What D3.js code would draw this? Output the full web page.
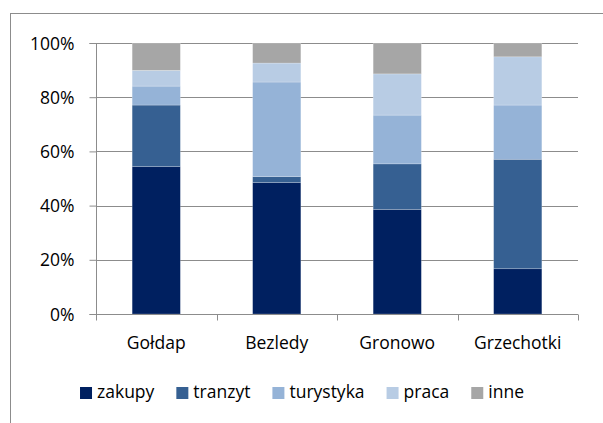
<!DOCTYPE html>
<html>
<head>
<meta charset="utf-8">
<script src="https://cdn.jsdelivr.net/npm/d3@7/dist/d3.min.js"></script>
<style>
  html, body { margin: 0; padding: 0; background: #fff; }
  svg { display: block; }
  text { font-family: "Open Sans", sans-serif; fill: #000; }
</style>
</head>
<body>
<svg id="chart" width="603" height="423"></svg>
<script>
// Stacked 100% bars: purpose of trips through each border crossing
const categories = ["Gołdap", "Bezledy", "Gronowo", "Grzechotki"];
const seriesNames = ["zakupy", "tranzyt", "turystyka", "praca", "inne"];
const zakupy    = [54.4, 48.5, 38.6, 16.7];
const tranzyt   = [22.7,  2.2, 16.8, 40.4];
const turystyka = [ 7.0, 34.9, 18.0, 20.0];
const praca     = [ 5.8,  7.0, 15.2, 17.8];
const inne      = [10.1,  7.4, 11.4,  5.1];
const yTicks = [0, 0.2, 0.4, 0.6, 0.8, 1.0];
const colors = ["#002060", "#366092", "#95b3d7", "#b8cce4", "#a6a6a6"];

const FONT_SIZE = "17.5px";

const seriesValues = [zakupy, tranzyt, turystyka, praca, inne];
const rows = categories.map((c, i) => {
  const row = { category: c };
  seriesNames.forEach((s, j) => { row[s] = seriesValues[j][i] / 100; });
  return row;
});

const svg = d3.select("#chart");
const margin = { left: 96, right: 25, top: 43, bottom: 109 };
const W = 603, H = 423;
const plotW = W - margin.left - margin.right;
const plotH = H - margin.top - margin.bottom;

// chart frame
svg.append("rect")
  .attr("x", 10.5).attr("y", 13.5)
  .attr("width", 620).attr("height", 440)
  .attr("fill", "none").attr("stroke", "#8c8c8c").attr("stroke-width", 1);

const g = svg.append("g").attr("transform", `translate(${margin.left},${margin.top})`);

const x = d3.scaleBand().domain(categories).range([0, plotW])
  .paddingInner(0.6).paddingOuter(0.3);
const y = d3.scaleLinear().domain([0, 1]).range([plotH, 0]);

// horizontal gridlines
g.append("g").selectAll("line").data(yTicks.filter(t => t > 0)).join("line")
  .attr("x1", 0).attr("x2", plotW)
  .attr("y1", d => Math.round(y(d)) + 0.5).attr("y2", d => Math.round(y(d)) + 0.5)
  .attr("stroke", "#8c8c8c").attr("stroke-width", 1);

// stacked bars
const stack = d3.stack().keys(seriesNames);
const layers = stack(rows);
g.append("g").selectAll("g").data(layers).join("g")
  .attr("fill", (d, i) => colors[i])
  .selectAll("rect").data(d => d).join("rect")
  .attr("x", d => x(d.data.category))
  .attr("width", x.bandwidth())
  .attr("y", d => y(d[1]))
  .attr("height", d => y(d[0]) - y(d[1]))
  .attr("stroke", "#ffffff").attr("stroke-opacity", 0.35).attr("stroke-width", 0.6);

// y axis
const yAxis = d3.axisLeft(y).tickValues(yTicks).tickFormat(d3.format(".0%"))
  .tickSize(7).tickPadding(15);
const ya = g.append("g").attr("transform", "translate(0.5,0)").call(yAxis);
ya.selectAll("path, line").attr("stroke", "#8c8c8c");
ya.select(".domain").attr("d", `M-7,${plotH + 0.5}H0V0.5H-7`);
ya.selectAll("text").style("font-size", FONT_SIZE).style("font-family", "'Open Sans', sans-serif")
  .attr("dy", "0.35em");

// x axis with tick marks at category boundaries
const xa = g.append("g").attr("transform", `translate(0,${plotH + 0.5})`);
xa.append("line").attr("x1", 0).attr("x2", plotW).attr("stroke", "#8c8c8c");
const boundaries = d3.range(categories.length + 1).map(i => i * x.step());
xa.selectAll("line.tick").data(boundaries).join("line").attr("class", "tick")
  .attr("x1", d => Math.round(d) + 0.5).attr("x2", d => Math.round(d) + 0.5)
  .attr("y1", 0).attr("y2", 6).attr("stroke", "#8c8c8c");
xa.selectAll("text").data(categories).join("text")
  .attr("x", d => x(d) + x.bandwidth() / 2)
  .attr("y", 34)
  .attr("text-anchor", "middle")
  .style("font-size", FONT_SIZE)
  .text(d => d);

// legend
const legend = svg.append("g").attr("transform", "translate(0,398)");
const items = legend.selectAll("g").data(seriesNames).join("g");
items.append("rect").attr("x", 0).attr("y", -11).attr("width", 12).attr("height", 12)
  .attr("fill", (d, i) => colors[i]);
items.append("text").attr("x", 17).attr("y", 0).style("font-size", FONT_SIZE).text(d => d);
let cursor = 0;
const offsets = [];
items.each(function () {
  offsets.push(cursor);
  const w = this.querySelector("text").getComputedTextLength();
  cursor += 17 + w + 22;
});
const total = cursor - 22;
const startX = 302 - total / 2;
items.attr("transform", (d, i) => `translate(${startX + offsets[i]},0)`);
</script>
</body>
</html>
